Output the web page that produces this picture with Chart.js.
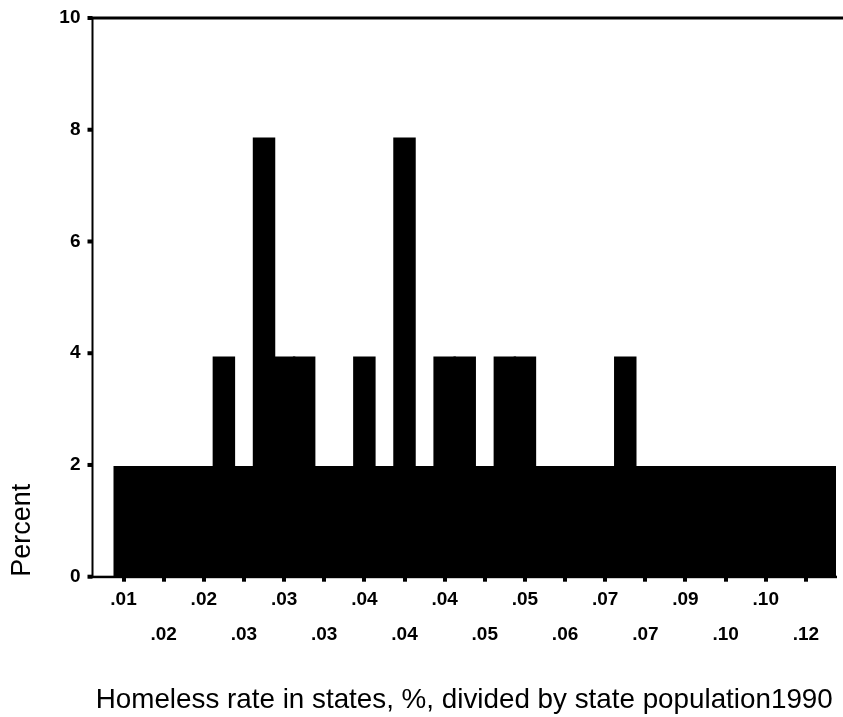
<!DOCTYPE html>
<html>
<head>
<meta charset="utf-8">
<script src="https://cdn.jsdelivr.net/npm/chart.js@4/dist/chart.umd.min.js"></script>
<style>
  html, body { margin: 0; padding: 0; background: #ffffff; }
  #wrap { width: 843px; height: 717px; }
</style>
</head>
<body>
<div id="wrap"><canvas id="c" width="843" height="717"></canvas></div>
<script>
// Category tick labels (only every other category is labelled in the source)
const categories = [
  '.01', '', '.02', '', '.02', '', '.03', '', '.03', '', '.03', '',
  '.04', '', '.04', '', '.04', '', '.05', '', '.05', '', '.06', '',
  '.07', '', '.07', '', '.09', '', '.10', '', '.10', '', '.12', ''
];
// Percent of states in each category
const percentValues = [
  1.96, 1.96, 1.96, 1.96, 1.96, 3.92, 1.96, 7.84, 3.92, 3.92, 1.96, 1.96,
  3.92, 1.96, 7.84, 1.96, 3.92, 3.92, 1.96, 3.92, 3.92, 1.96, 1.96, 1.96,
  1.96, 3.92, 1.96, 1.96, 1.96, 1.96, 1.96, 1.96, 1.96, 1.96, 1.96, 1.96
];
const yTickValues = [0, 2, 4, 6, 8, 10];
const xTitle = 'Homeless rate in states, %, divided by state population1990';
const yTitle = 'Percent';

const FONT = "'Liberation Sans', Arial, Helvetica, sans-serif";

const framePlugin = {
  id: 'frame',
  afterDraw(chart) {
    const { ctx, chartArea: a, scales: { y } } = chart;
    const L = a.left - 21;
    ctx.save();
    ctx.fillStyle = '#000';
    ctx.fillRect(L - 1, a.top - 1.5, chart.width - L + 1, 3);        // top line
    ctx.fillRect(L - 1, a.top, 2, a.bottom - a.top);                 // left axis
    ctx.fillRect(L - 4, a.bottom - 1, a.right - L + 5, 2.5);          // bottom axis
    y.ticks.forEach(t => {
      const py = y.getPixelForValue(t.value);
      ctx.fillRect(L - 5, py - 2, 5, 4);
    });
    // x axis title, centred under the whole axis frame
    ctx.font = '27.8px ' + FONT;
    ctx.textAlign = 'center';
    ctx.textBaseline = 'middle';
    ctx.fillText(xTitle, (L + a.right) / 2, a.bottom + 124);
    ctx.restore();
  }
};

new Chart(document.getElementById('c'), {
  type: 'bar',
  data: {
    labels: categories,
    datasets: [{
      label: yTitle,
      data: percentValues,
      backgroundColor: '#000',
      borderWidth: 0,
      inflateAmount: 1.2,
      barPercentage: 1,
      categoryPercentage: 1
    }]
  },
  options: {
    responsive: false,
    devicePixelRatio: 1,
    animation: false,
    layout: { padding: { top: 18, right: 7, bottom: 65, left: 0 } },
    plugins: { legend: { display: false }, tooltip: { enabled: false } },
    scales: {
      x: {
        offset: true,
        border: { display: false },
        grid: {
          display: true,
          offset: false,
          drawOnChartArea: false,
          drawTicks: true,
          tickLength: 5,
          lineWidth: 4,
          color: ctx => (ctx.index % 2 === 0 ? '#000' : 'rgba(0,0,0,0)')
        },
        ticks: {
          autoSkip: false,
          maxRotation: 0,
          minRotation: 0,
          padding: 0,
          color: '#000',
          font: { family: FONT, size: 19, weight: 'bold', lineHeight: 1.85 },
          callback: (v, i) => {
            const lab = categories[i];
            if (!lab) return '';
            return (i % 4 === 0) ? [lab, ''] : ['', lab];
          }
        },
        title: { display: false, text: xTitle }
      },
      y: {
        min: 0,
        max: 10,
        afterBuildTicks: s => { s.ticks = yTickValues.map(v => ({ value: v })); },
        afterFit: s => { s.width = 113.5; s.paddingTop = 0; s.paddingBottom = 0; },
        border: { display: false },
        grid: { display: false, drawTicks: false },
        ticks: {
          padding: 33,
          color: '#000',
          font: { family: FONT, size: 19, weight: 'bold' }
        },
        title: {
          display: true,
          text: yTitle,
          align: 'start',
          color: '#000',
          font: { family: FONT, size: 27 },
          padding: { top: 6, bottom: 0 }
        }
      }
    }
  },
  plugins: [framePlugin]
});
</script>
</body>
</html>
